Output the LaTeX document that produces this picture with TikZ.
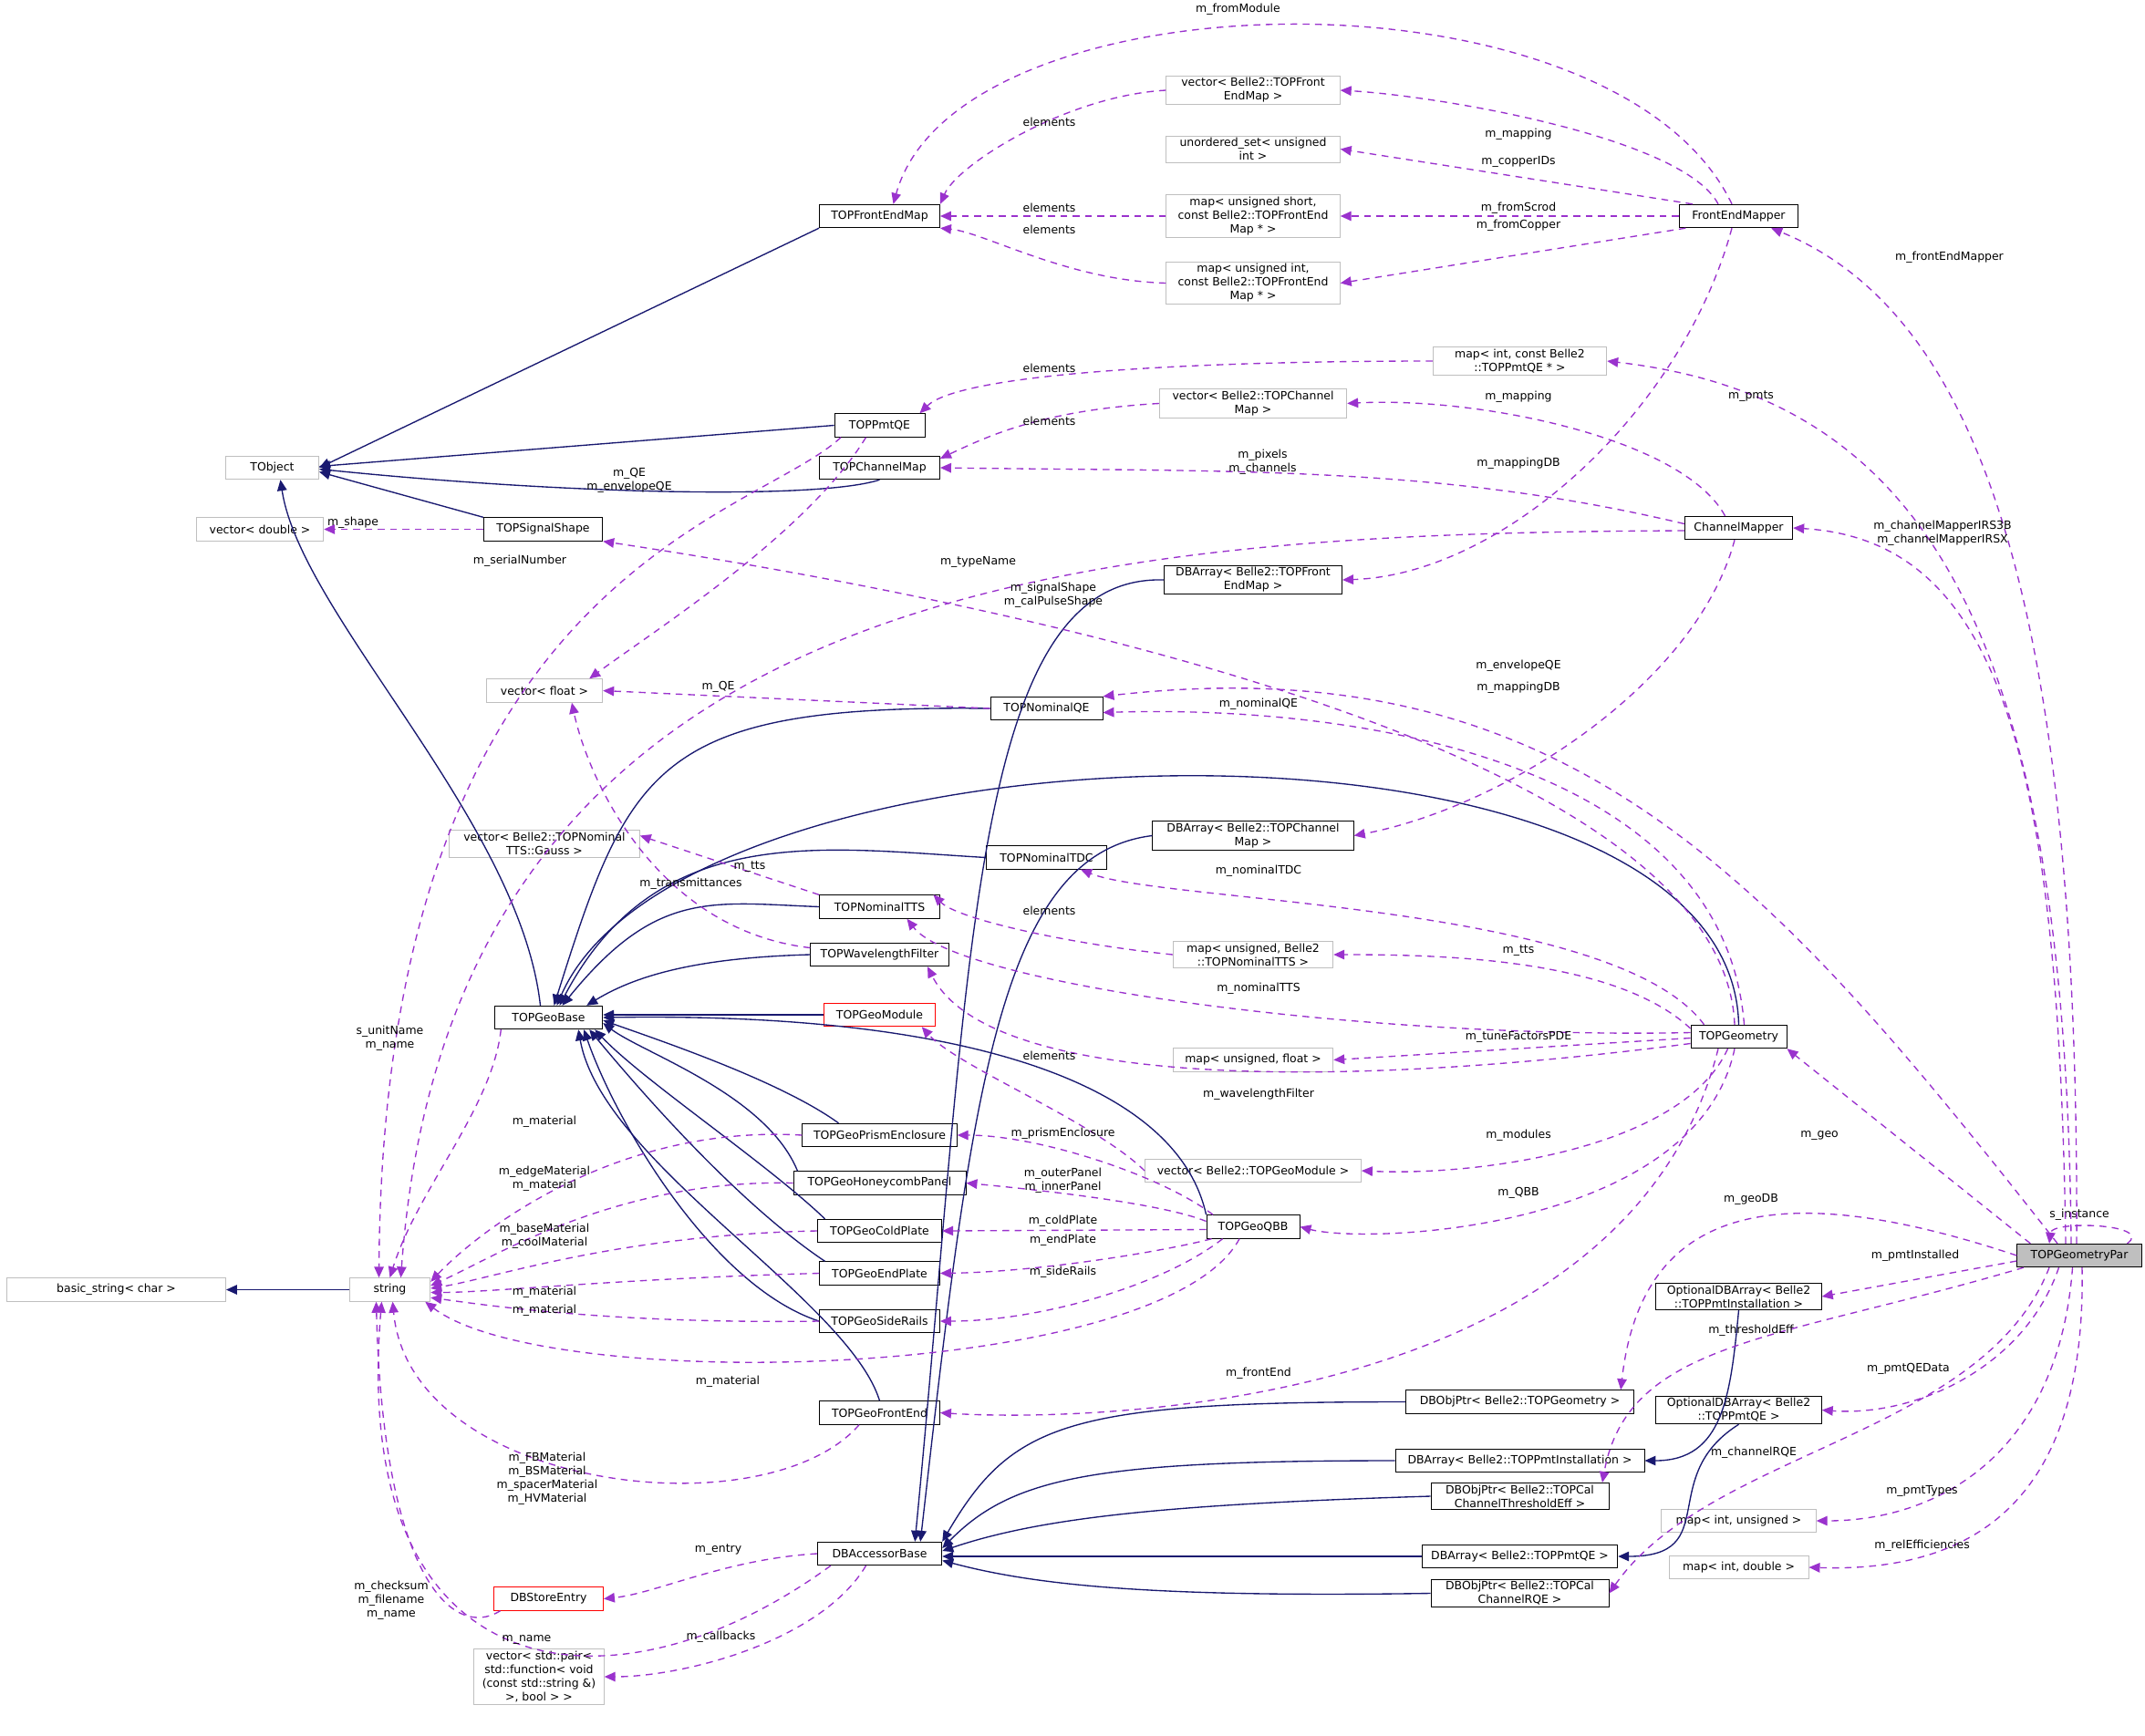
\documentclass[tikz,border=0pt]{standalone}
\usepackage{fontspec}
\setmainfont{DejaVu Sans}
\usetikzlibrary{arrows.meta,calc}
\definecolor{gb}{HTML}{BFBFBF}
\definecolor{nv}{HTML}{191970}
\definecolor{pu}{HTML}{9A32CD}
\begin{document}
\begin{tikzpicture}[x=1pt,y=-1pt,
 box/.style={draw,line width=0.6pt,inner sep=1.5pt,minimum height=17pt,align=center,font=\fontsize{8.3}{10}\selectfont},
 gbox/.style={box,draw=gb},
 kbox/.style={box,draw=black},
 rbox/.style={box,draw=red},
 lbl/.style={font=\fontsize{8.3}{10}\selectfont,inner sep=0pt,align=center},
 inh/.style={draw=nv,line width=0.9pt,-{Triangle[length=8pt,width=7pt]}},
 use/.style={draw=pu,line width=0.9pt,dash pattern=on 5pt off 4pt,-{Triangle[length=8pt,width=7pt,fill=pu]}}]
\useasboundingbox (0,0) rectangle (1568,1269);
% nodes
\node[kbox,fill=gb,minimum width=91] (tgp) at (1520,918) {TOPGeometryPar};
\node[gbox,minimum width=160] (bstr) at (85,943) {basic\_string< char >};
\node[gbox,minimum width=59] (str) at (285,943) {string};
\node[gbox,minimum width=68] (tobj) at (199,342) {TObject};
\node[gbox,minimum width=93] (vdbl) at (190,387) {vector< double >};
\node[kbox,minimum width=87] (tss) at (397,387) {TOPSignalShape};
\node[kbox,minimum width=79] (tgb) at (401,744) {TOPGeoBase};
\node[rbox,minimum width=80] (dse) at (401,1169) {DBStoreEntry};
\node[gbox,minimum width=95] (vpair) at (394,1226) {vector< std::pair<\\ std::function< void\\ (const std::string \&)\\ >, bool > >};
\node[kbox,minimum width=88] (tfem) at (643,158) {TOPFrontEndMap};
\node[kbox,minimum width=66] (pmtqe) at (643,311) {TOPPmtQE};
\node[kbox,minimum width=88] (tcm) at (643,342) {TOPChannelMap};
\node[gbox,minimum width=85] (vflt) at (398,505) {vector< float >};
\node[gbox,minimum width=139] (vgauss) at (398,617) {vector< Belle2::TOPNominal\\TTS::Gauss >};
\node[kbox,minimum width=82] (nqe) at (765,518) {TOPNominalQE};
\node[kbox,minimum width=88] (ntdc) at (765,627) {TOPNominalTDC};
\node[kbox,minimum width=88] (ntts) at (643,663) {TOPNominalTTS};
\node[kbox,minimum width=101] (wlf) at (643,698) {TOPWavelengthFilter};
\node[rbox,minimum width=81] (gmod) at (643,742) {TOPGeoModule};
\node[kbox,minimum width=113] (gpe) at (643,830) {TOPGeoPrismEnclosure};
\node[kbox,minimum width=126] (ghp) at (643,865) {TOPGeoHoneycombPanel};
\node[kbox,minimum width=91] (gcp) at (643,900) {TOPGeoColdPlate};
\node[kbox,minimum width=88] (gep) at (643,931) {TOPGeoEndPlate};
\node[kbox,minimum width=88] (gsr) at (643,966) {TOPGeoSideRails};
\node[kbox,minimum width=88] (gfe) at (643,1033) {TOPGeoFrontEnd};
\node[kbox,minimum width=91] (dbab) at (643,1136) {DBAccessorBase};
\node[gbox,minimum width=127] (vfem) at (916,66) {vector< Belle2::TOPFront\\EndMap >};
\node[gbox,minimum width=127] (uset) at (916,109) {unordered\_set< unsigned\\int >};
\node[gbox,minimum width=127] (mus) at (916,158) {map< unsigned short,\\const Belle2::TOPFrontEnd\\Map * >};
\node[gbox,minimum width=127] (mui) at (916,207) {map< unsigned int,\\const Belle2::TOPFrontEnd\\Map * >};
\node[gbox,minimum width=127] (mpmt) at (1111,264) {map< int, const Belle2\\::TOPPmtQE * >};
\node[gbox,minimum width=137] (vcm) at (916,295) {vector< Belle2::TOPChannel\\Map >};
\node[kbox,minimum width=130] (dbafe) at (916,424) {DBArray< Belle2::TOPFront\\EndMap >};
\node[kbox,minimum width=147] (dbacm) at (916,611) {DBArray< Belle2::TOPChannel\\Map >};
\node[gbox,minimum width=117] (mtts) at (916,698) {map< unsigned, Belle2\\::TOPNominalTTS >};
\node[gbox,minimum width=117] (muf) at (916,775) {map< unsigned, float >};
\node[gbox,minimum width=158] (vgm) at (916,856) {vector< Belle2::TOPGeoModule >};
\node[kbox,minimum width=68] (qbb) at (916,897) {TOPGeoQBB};
\node[kbox,minimum width=87] (fem) at (1271,158) {FrontEndMapper};
\node[kbox,minimum width=79] (chm) at (1271,386) {ChannelMapper};
\node[kbox,minimum width=70] (tgeo) at (1271,758) {TOPGeometry};
\node[kbox,minimum width=121] (odpi) at (1271,948) {OptionalDBArray< Belle2\\::TOPPmtInstallation >};
\node[kbox,minimum width=167] (dopg) at (1111,1025) {DBObjPtr< Belle2::TOPGeometry >};
\node[kbox,minimum width=182] (dapi) at (1111,1068) {DBArray< Belle2::TOPPmtInstallation >};
\node[kbox,minimum width=130] (doth) at (1111,1094) {DBObjPtr< Belle2::TOPCal\\ChannelThresholdEff >};
\node[kbox,minimum width=121] (odqe) at (1271,1031) {OptionalDBArray< Belle2\\::TOPPmtQE >};
\node[kbox,minimum width=143] (daqe) at (1111,1138) {DBArray< Belle2::TOPPmtQE >};
\node[kbox,minimum width=130] (dorq) at (1111,1165) {DBObjPtr< Belle2::TOPCal\\ChannelRQE >};
\node[gbox,minimum width=113] (miu) at (1271,1112) {map< int, unsigned >};
\node[gbox,minimum width=102] (mid) at (1271,1146) {map< int, double >};
% inheritance
\draw[inh] (tfem.south west) -- (tobj.east);
\draw[inh] (pmtqe.west) -- ($(tobj.east)+(0,-1)$);
\draw[inh] ($(tcm.south)+(0,0)$) .. controls (600,365) and (420,362) .. ($(tobj.east)+(0,1)$);
\draw[inh] (tss.north west) -- ($(tobj.east)+(0,3)$);
\draw[inh] ($(tgb.north)+(-6,0)$) .. controls (380,600) and (220,450) .. ($(tobj.south)+(6,0)$);
\draw[inh] (str.west) -- (bstr.east);
\draw[inh] (nqe.west) .. controls (480,515) and (460,560) .. ($(tgb.north)+(4,0)$);
\draw[inh] (tgeo.north) .. controls (1265,500) and (500,520) .. ($(tgb.north)+(6,0)$);
\draw[inh] (ntdc.west) .. controls (600,620) and (480,600) .. ($(tgb.north)+(8,0)$);
\draw[inh] (ntts.west) .. controls (520,660) and (480,650) .. ($(tgb.north)+(10,0)$);
\draw[inh] (wlf.west) .. controls (520,700) and (470,710) .. ($(tgb.north east)+(-12,0)$);
\draw[inh] (gmod.west) -- ($(tgb.east)+(0,-2)$);
\draw[inh] ($(gpe.north)+(-30,0)$) .. controls (570,790) and (480,760) .. ($(tgb.east)+(0,2)$);
\draw[inh] ($(ghp.north)+(-60,0)$) .. controls (560,800) and (470,770) .. ($(tgb.east)+(0,4)$);
\draw[inh] ($(gcp.north)+(-40,0)$) .. controls (560,850) and (470,790) .. ($(tgb.south east)+(-6,0)$);
\draw[inh] ($(gep.north)+(-40,0)$) .. controls (540,880) and (470,800) .. ($(tgb.south east)+(-10,0)$);
\draw[inh] (gsr.west) .. controls (520,940) and (450,820) .. ($(tgb.south east)+(-14,0)$);
\draw[inh] (gfe.north) .. controls (620,950) and (440,850) .. ($(tgb.south east)+(-18,0)$);
\draw[inh] (qbb.north west) .. controls (860,790) and (700,740) .. (tgb.east);
\draw[inh] (dbafe.west) .. controls (710,420) and (710,700) .. ($(dbab.north east)+(-20,0)$);
\draw[inh] (dbacm.west) .. controls (730,625) and (710,800) .. ($(dbab.north east)+(-16,0)$);
\draw[inh] (dopg.west) .. controls (780,1025) and (740,1040) .. (dbab.north east);
\draw[inh] (dapi.west) .. controls (800,1068) and (740,1080) .. ($(dbab.east)+(0,-4)$);
\draw[inh] (doth.west) .. controls (850,1100) and (760,1110) .. ($(dbab.east)+(0,-2)$);
\draw[inh] (daqe.west) -- ($(dbab.east)+(0,2)$);
\draw[inh] (dorq.west) .. controls (850,1168) and (760,1160) .. ($(dbab.east)+(0,5)$);
\draw[inh] (odpi.south) .. controls (1265,1020) and (1260,1068) .. (dapi.east);
\draw[inh] (odqe.south) .. controls (1210,1080) and (1260,1138) .. (daqe.east);
% usage: TOPGeometryPar
\draw[use] ($(tgp.north)+(35,0)$) .. controls (1575,895) and (1500,892) .. ($(tgp.north)+(-22,0)$);
\node[lbl] (l1) at (1520,888) {s\_instance};
\draw[use] ($(tgp.north)+(-2,0)$) .. controls (1520,450) and (1450,230) .. ($(fem.south east)+(-20,0)$);
\node[lbl] (l2) at (1425,188) {m\_frontEndMapper};
\draw[use] ($(tgp.north)+(-6,0)$) .. controls (1510,450) and (1400,290) .. (mpmt.east);
\node[lbl] (l3) at (1280,290) {m\_pmts};
\draw[use] ($(tgp.north)+(-10,0)$) .. controls (1505,550) and (1460,395) .. (chm.east);
\node[lbl] (l4) at (1420,390) {m\_channelMapperIRS3B\\m\_channelMapperIRSX};
\draw[use] ($(tgp.north)+(-16,0)$) .. controls (1300,650) and (1150,470) .. (nqe.north east);
\node[lbl] (l5) at (1110,487) {m\_envelopeQE};
\draw[use] ($(tgp.north west)+(10,0)$) -- (tgeo.south east);
\node[lbl] (l6) at (1330,830) {m\_geo};
\draw[use] (tgp.west) .. controls (1300,860) and (1200,880) .. ($(dopg.north east)+(-10,0)$);
\node[lbl] (l7) at (1280,877) {m\_geoDB};
\draw[use] ($(tgp.west)+(0,4)$) -- (odpi.east);
\node[lbl] (l8) at (1400,918) {m\_pmtInstalled};
\draw[use] ($(tgp.south west)+(5,0)$) .. controls (1300,980) and (1190,980) .. ($(doth.north east)+(-5,0)$);
\node[lbl] (l9) at (1280,973) {m\_thresholdEff};
\draw[use] ($(tgp.south)+(-15,0)$) .. controls (1480,1000) and (1400,1036) .. (odqe.east);
\node[lbl] (l10) at (1395,1001) {m\_pmtQEData};
\draw[use] ($(tgp.south)+(-22,0)$) .. controls (1450,1050) and (1250,1060) .. (dorq.east);
\node[lbl] (l11) at (1282,1062) {m\_channelRQE};
\draw[use] ($(tgp.south)+(-5,0)$) .. controls (1505,1060) and (1420,1112) .. (miu.east);
\node[lbl] (l12) at (1405,1090) {m\_pmtTypes};
\draw[use] ($(tgp.south)+(2,0)$) .. controls (1525,1090) and (1450,1150) .. (mid.east);
\node[lbl] (l13) at (1405,1130) {m\_relEfficiencies};
% FrontEndMapper
\draw[use] ($(fem.north)+(-5,0)$) .. controls (1180,-30) and (700,-20) .. ($(tfem.north)+(10,0)$);
\node[lbl] (l14) at (905,7) {m\_fromModule};
\draw[use] ($(fem.north)+(-15,0)$) .. controls (1230,100) and (1050,70) .. (vfem.east);
\node[lbl] (l15) at (1110,98) {m\_mapping};
\draw[use] ($(fem.north west)+(10,0)$) -- (uset.east);
\node[lbl] (l16) at (1110,118) {m\_copperIDs};
\draw[use] (fem.west) -- (mus.east);
\node[lbl] (l17) at (1110,152) {m\_fromScrod};
\draw[use] ($(fem.south west)+(5,0)$) -- (mui.east);
\node[lbl] (l18) at (1110,165) {m\_fromCopper};
\draw[use] ($(fem.south)+(-5,0)$) .. controls (1230,300) and (1100,420) .. (dbafe.east);
\node[lbl] (l19) at (1110,339) {m\_mappingDB};
\draw[use] (vfem.west) .. controls (780,70) and (700,120) .. (tfem.north east);
\node[lbl] (l20) at (767,89) {elements};
\draw[use] (mus.west) -- (tfem.east);
\node[lbl] (l21) at (767,152) {elements};
\draw[use] (mui.west) .. controls (780,205) and (720,170) .. (tfem.south east);
\node[lbl] (l22) at (767,168) {elements};
\draw[use] (mpmt.west) .. controls (850,264) and (700,275) .. ($(pmtqe.north east)+(-4,0)$);
\node[lbl] (l23) at (767,269) {elements};
\draw[use] (vcm.west) .. controls (760,300) and (720,320) .. ($(tcm.north east)+(0,2)$);
\node[lbl] (l24) at (767,308) {elements};
% ChannelMapper
\draw[use] ($(chm.north)+(-10,0)$) .. controls (1230,320) and (1080,290) .. (vcm.east);
\node[lbl] (l25) at (1110,290) {m\_mapping};
\draw[use] ($(chm.west)+(0,-3)$) .. controls (1050,340) and (900,345) .. (tcm.east);
\node[lbl] (l26) at (923,338) {m\_pixels\\m\_channels};
\draw[use] ($(chm.west)+(0,2)$) .. controls (800,390) and (330,420) .. ($(str.north)+(8,0)$);
\node[lbl] (l27) at (715,411) {m\_typeName};
\draw[use] ($(chm.south)+(-3,0)$) .. controls (1240,500) and (1100,590) .. (dbacm.east);
\node[lbl] (l28) at (1110,503) {m\_mappingDB};
% TOPPmtQE
\draw[use] ($(pmtqe.south west)+(5,0)$) .. controls (550,380) and (280,420) .. ($(str.north)+(-8,0)$);
\node[lbl] (l29) at (380,410) {m\_serialNumber};
\draw[use] ($(pmtqe.south)+(-10,0)$) .. controls (590,390) and (480,460) .. ($(vflt.north east)+(-10,0)$);
\node[lbl] (l30) at (460,351) {m\_QE\\m\_envelopeQE};
\draw[use] (tss.west) -- (vdbl.east);
\node[lbl] (l31) at (258,382) {m\_shape};
\draw[use] (nqe.west) -- (vflt.east);
\node[lbl] (l32) at (525,502) {m\_QE};
\draw[use] (ntts.north west) -- ($(vgauss.east)+(0,-6)$);
\node[lbl] (l33) at (548,634) {m\_tts};
\draw[use] ($(wlf.west)+(0,-5)$) .. controls (480,680) and (430,570) .. ($(vflt.south)+(20,0)$);
\node[lbl] (l34) at (505,646) {m\_transmittances};
\draw[use] ($(tgb.south west)+(5,0)$) .. controls (360,810) and (305,870) .. ($(str.north)+(0,0)$);
\node[lbl] (l35) at (285,759) {s\_unitName\\m\_name};
% TOPGeometry
\draw[use] ($(tgeo.north)+(-3,0)$) .. controls (1260,560) and (800,450) .. (tss.south east);
\node[lbl] (l36) at (770,435) {m\_signalShape\\m\_calPulseShape};
\draw[use] ($(tgeo.north)+(4,0)$) .. controls (1260,560) and (1000,515) .. ($(nqe.east)+(0,3)$);
\node[lbl] (l37) at (920,515) {m\_nominalQE};
\draw[use] ($(tgeo.north west)+(10,0)$) .. controls (1180,660) and (850,660) .. ($(ntdc.south)+(25,0)$);
\node[lbl] (l38) at (920,637) {m\_nominalTDC};
\draw[use] ($(tgeo.west)+(0,-6)$) .. controls (1180,700) and (1050,698) .. (mtts.east);
\node[lbl] (l39) at (1110,695) {m\_tts};
\draw[use] ($(tgeo.west)+(0,-3)$) .. controls (1000,760) and (700,720) .. ($(ntts.south)+(20,0)$);
\node[lbl] (l40) at (920,723) {m\_nominalTTS};
\draw[use] ($(tgeo.west)+(0,1)$) -- (muf.east);
\node[lbl] (l41) at (1110,758) {m\_tuneFactorsPDE};
\draw[use] ($(tgeo.west)+(0,5)$) .. controls (950,800) and (720,790) .. ($(wlf.south)+(35,0)$);
\node[lbl] (l42) at (920,800) {m\_wavelengthFilter};
\draw[use] ($(tgeo.south)+(-8,0)$) .. controls (1230,840) and (1080,860) .. (vgm.east);
\node[lbl] (l43) at (1110,830) {m\_modules};
\draw[use] ($(tgeo.south)+(-3,0)$) .. controls (1240,900) and (1000,910) .. (qbb.east);
\node[lbl] (l44) at (1110,872) {m\_QBB};
\draw[use] ($(tgeo.south)+(-15,0)$) .. controls (1190,1030) and (800,1040) .. (gfe.east);
\node[lbl] (l45) at (920,1004) {m\_frontEnd};
\draw[use] (mtts.west) .. controls (780,690) and (700,672) .. ($(ntts.north east)+(-5,0)$);
\node[lbl] (l46) at (767,666) {elements};
\draw[use] (vgm.west) .. controls (800,820) and (700,780) .. ($(gmod.south east)+(-10,0)$);
\node[lbl] (l47) at (767,772) {elements};
% geo parts to string
\draw[use] (gpe.west) .. controls (450,822) and (350,900) .. ($(str.north east)+(0,3)$);
\node[lbl] (l48) at (398,820) {m\_material};
\draw[use] (ghp.west) .. controls (450,862) and (360,920) .. ($(str.east)+(0,-3)$);
\node[lbl] (l49) at (398,862) {m\_edgeMaterial\\m\_material};
\draw[use] (gcp.west) .. controls (450,903) and (360,935) .. ($(str.east)+(0,-1)$);
\node[lbl] (l50) at (398,904) {m\_baseMaterial\\m\_coolMaterial};
\draw[use] (gep.west) .. controls (450,935) and (360,945) .. ($(str.east)+(0,2)$);
\node[lbl] (l51) at (398,945) {m\_material};
\draw[use] (gsr.west) .. controls (450,968) and (360,955) .. ($(str.south east)+(0,-3)$);
\node[lbl] (l52) at (398,958) {m\_material};
\draw[use] ($(qbb.south)+(-10,0)$) .. controls (850,1010) and (400,1020) .. ($(str.south east)+(-4,0)$);
\node[lbl] (l53) at (532,1010) {m\_material};
\draw[use] ($(qbb.north west)+(5,0)$) .. controls (850,860) and (760,830) .. (gpe.east);
\node[lbl] (l54) at (777,829) {m\_prismEnclosure};
\draw[use] ($(qbb.west)+(0,-4)$) .. controls (850,880) and (760,870) .. (ghp.east);
\node[lbl] (l55) at (777,863) {m\_outerPanel\\m\_innerPanel};
\draw[use] ($(qbb.west)+(0,2)$) -- (gcp.east);
\node[lbl] (l56) at (777,893) {m\_coldPlate};
\draw[use] ($(qbb.south west)+(4,0)$) .. controls (850,915) and (760,930) .. (gep.east);
\node[lbl] (l57) at (777,907) {m\_endPlate};
\draw[use] ($(qbb.south west)+(12,0)$) .. controls (850,940) and (760,966) .. (gsr.east);
\node[lbl] (l58) at (777,930) {m\_sideRails};
\draw[use] ($(gfe.south)+(-15,0)$) .. controls (560,1120) and (300,1090) .. ($(str.south)+(2,0)$);
\node[lbl] (l59) at (400,1081) {m\_FBMaterial\\m\_BSMaterial\\m\_spacerMaterial\\m\_HVMaterial};
% DBAccessorBase
\draw[use] (dbab.west) .. controls (530,1140) and (480,1165) .. (dse.east);
\node[lbl] (l60) at (525,1133) {m\_entry};
\draw[use] ($(dbab.south west)+(10,0)$) .. controls (450,1260) and (255,1240) .. ($(str.south)+(-6,0)$);
\node[lbl] (l61) at (385,1199) {m\_name};
\draw[use] ($(dbab.south)+(-10,0)$) .. controls (600,1200) and (500,1226) .. (vpair.east);
\node[lbl] (l62) at (527,1197) {m\_callbacks};
\draw[use] ($(dse.south west)+(5,0)$) .. controls (330,1200) and (280,1150) .. ($(str.south)+(-10,0)$);
\node[lbl] (l63) at (286,1170) {m\_checksum\\m\_filename\\m\_name};
\end{tikzpicture}
\end{document}
